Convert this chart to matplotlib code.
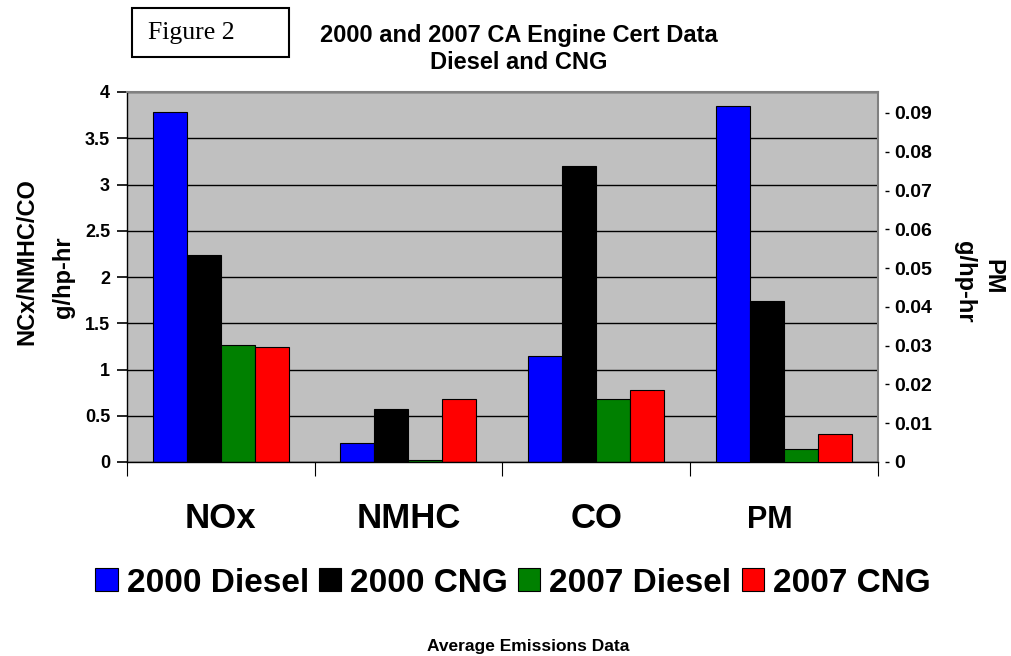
import matplotlib
matplotlib.use("Agg")
import matplotlib.pyplot as plt
import numpy as np
from matplotlib.patches import Rectangle
from matplotlib.transforms import ScaledTranslation, blended_transform_factory

plt.rcParams["font.family"] = ["Liberation Sans", "DejaVu Sans"]
plt.rcParams["font.weight"] = "bold"

# data (g/hp-hr); PM is read against the right-hand axis
categories = ["NOx", "NMHC", "CO", "PM"]
series_names = ["2000 Diesel", "2000 CNG", "2007 Diesel", "2007 CNG"]
diesel_2000 = [3.78, 0.205, 1.15, 0.0918]
cng_2000 = [2.24, 0.575, 3.20, 0.0414]
diesel_2007 = [1.27, 0.025, 0.68, 0.0034]
cng_2007 = [1.24, 0.685, 0.78, 0.0072]

left_ticks = [0, 0.5, 1, 1.5, 2, 2.5, 3, 3.5, 4]
left_tick_labels = ["0", "0.5", "1", "1.5", "2", "2.5", "3", "3.5", "4"]
right_ticks = [0, 0.01, 0.02, 0.03, 0.04, 0.05, 0.06, 0.07, 0.08, 0.09]
right_tick_labels = ["0", "0.01", "0.02", "0.03", "0.04", "0.05", "0.06",
                     "0.07", "0.08", "0.09"]

colors = ["#0000FF", "#000000", "#008000", "#FF0000"]
W, H = 1012, 656

fig = plt.figure(figsize=(W / 100, H / 100), dpi=100)
ax = fig.add_axes([126.7 / W, 1 - 462 / H, (878 - 126.7) / W, 370 / H])
ax2 = ax.twinx()

ax.set_facecolor("#C0C0C0")
ax.set_axisbelow(True)

x = np.arange(len(categories))
width = 0.181
series = [diesel_2000, cng_2000, diesel_2007, cng_2007]
n_main = 3  # NOx, NMHC, CO on left axis

for k, (vals, color, name) in enumerate(zip(series, colors, series_names)):
    xs = x + (k - 1.5) * width
    vals = np.asarray(vals)
    ax.bar(xs[:n_main], vals[:n_main], width, color=color, edgecolor="black",
           linewidth=0.8, label=name)
    ax2.bar(xs[n_main:], vals[n_main:], width, color=color, edgecolor="black",
            linewidth=0.8)

ax.set_xlim(-0.5, len(categories) - 0.5)
ax.set_ylim(0, 4)
ax.set_yticks(left_ticks, left_tick_labels)
ax.grid(axis="y", color="black", linewidth=1.0)
ax.tick_params(axis="y", direction="out", length=7, width=1.2, labelsize=13, pad=5)

ax.set_xticks(np.arange(len(categories) + 1) - 0.5)
ax.set_xticklabels([])
ax.tick_params(axis="x", direction="out", length=10, width=0.8)

ax.spines["left"].set_linewidth(1.0)
ax.spines["bottom"].set_linewidth(1.0)
for side in ("top", "right"):
    ax.spines[side].set_color("#808080")
    ax.spines[side].set_linewidth(1.5)

ax2.set_ylim(0, 0.0954)
ax2.set_yticks(right_ticks, right_tick_labels)
ax2.tick_params(axis="y", direction="out", length=3, width=1, labelsize=14, pad=4)
for side in ("top", "left", "bottom"):
    ax2.spines[side].set_visible(False)
ax2.spines["right"].set_position(("outward", 5))
ax2.spines["right"].set_color("none")

# category names under the groups
blend = blended_transform_factory(ax.transData, ax.transAxes)
label_sizes = [25, 25, 25, 22]
label_shift = [0, 0, 0, -14]
for i, cat in enumerate(categories):
    tr = blend + ScaledTranslation(label_shift[i] / 100, 0, fig.dpi_scale_trans)
    ax.text(x[i], -66 / 370, cat, transform=tr, ha="center", va="baseline",
            fontsize=label_sizes[i], fontweight="bold")

fig.legend(loc="center", bbox_to_anchor=(513 / W, 1 - 583 / H), ncol=4,
           frameon=False, fontsize=24, handlelength=0.67, handleheight=0.67,
           handletextpad=0.27, columnspacing=0.3, borderpad=0)

fig.text(519 / W, 1 - 49 / H, "2000 and 2007 CA Engine Cert Data\nDiesel and CNG",
         ha="center", va="center", fontsize=17, fontweight="bold")

fig.patches.append(Rectangle((131.7 / W, 1 - 56.7 / H), 157.6 / W, 48.4 / H,
                             transform=fig.transFigure, fill=False,
                             edgecolor="black", linewidth=1.5))
fig.text(148 / W, 1 - 33 / H, "Figure 2", ha="left", va="center", fontsize=18.5,
         family="Liberation Serif", fontweight="normal")

fig.text(27 / W, 1 - 262 / H, "NCx/NMHC/CO", rotation=90, ha="center",
         va="center", fontsize=17, fontweight="bold")
fig.text(64 / W, 1 - 277 / H, "g/hp-hr", rotation=90, ha="center",
         va="center", fontsize=17, fontweight="bold")
fig.text(993 / W, 1 - 277 / H, "PM", rotation=270, ha="center",
         va="center", fontsize=17, fontweight="bold")
fig.text(965 / W, 1 - 282 / H, "g/hp-hr", rotation=270, ha="center",
         va="center", fontsize=17, fontweight="bold")

fig.text(528 / W, 1 - 647 / H, "Average Emissions Data", ha="center",
         va="center", fontsize=12.5, fontweight="bold")

fig.savefig("out.png", dpi=100)
